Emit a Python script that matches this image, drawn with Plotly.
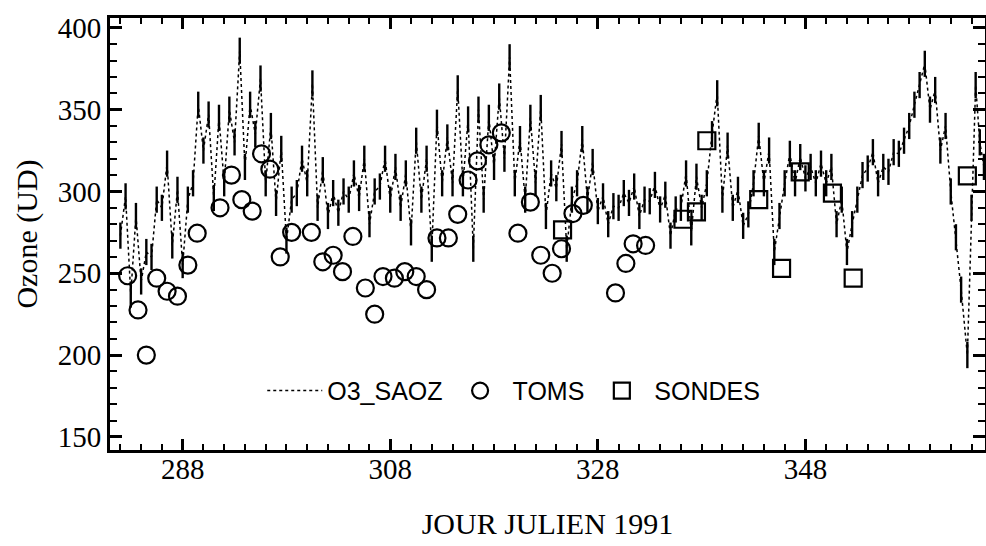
import plotly.graph_objects as go

# SAOZ ozone (DU): two readings per day (morning / evening)
saoz_day = [282.0, 282.5, 283.0, 283.5, 284.0, 284.5, 285.0, 285.5, 286.0, 286.5,
            287.0, 287.5, 288.0, 288.5, 289.0, 289.5, 290.0, 290.5, 291.0, 291.5,
            292.0, 292.5, 293.0, 293.5, 294.0, 294.5, 295.0, 295.5, 296.0, 296.5,
            297.0, 297.5, 298.0, 298.5, 299.0, 299.5, 300.0, 300.5, 301.0, 301.5,
            302.0, 302.5, 303.0, 303.5, 304.0, 304.5, 305.0, 305.5, 306.0, 306.5,
            307.0, 307.5, 308.0, 308.5, 309.0, 309.5, 310.0, 310.5, 311.0, 311.5,
            312.0, 312.5, 313.0, 313.5, 314.0, 314.5, 315.0, 315.5, 316.0, 316.5,
            317.0, 317.5, 318.0, 318.5, 319.0, 319.5, 320.0, 320.5, 321.0, 321.5,
            322.0, 322.5, 323.0, 323.5, 324.0, 324.5, 325.0, 325.5, 326.0, 326.5,
            327.0, 327.5, 328.0, 328.5, 329.0, 329.5, 330.0, 330.5, 331.0, 331.5,
            332.0, 332.5, 333.0, 333.5, 334.0, 334.5, 335.0, 335.5, 336.0, 336.5,
            337.0, 337.5, 338.0, 338.5, 339.0, 339.5, 340.0, 340.5, 341.0, 341.5,
            342.0, 342.5, 343.0, 343.5, 344.0, 344.5, 345.0, 345.5, 346.0, 346.5,
            347.0, 347.5, 348.0, 348.5, 349.0, 349.5, 350.0, 350.5, 351.0, 351.5,
            352.0, 352.5, 353.0, 353.5, 354.0, 354.5, 355.0, 355.5, 356.0, 356.5,
            357.0, 357.5, 358.0, 358.5, 359.0, 359.5, 360.0, 360.5, 361.0, 361.5,
            362.0, 362.5, 363.0, 363.6, 364.0, 364.4, 364.8, 365.2]
saoz_val = [273, 297, 237, 285, 245, 263, 260, 295, 290, 317,
            267, 301, 255, 295, 305, 353, 325, 347, 296, 345,
            305, 350, 330, 386, 315, 353, 335, 369, 305, 340,
            293, 326, 270, 295, 299, 320, 305, 366, 290, 313,
            285, 299, 287, 300, 295, 311, 296, 320, 280, 300,
            303, 320, 295, 315, 290, 311, 275, 331, 295, 320,
            265, 342, 305, 333, 305, 363, 305, 344, 265, 350,
            295, 345, 315, 358, 320, 382, 305, 332, 295, 345,
            305, 351, 285, 311, 302, 329, 265, 295, 305, 332,
            295, 318, 288, 297, 280, 291, 290, 299, 293, 303,
            285, 295, 294, 304, 289, 298, 273, 289, 290, 311,
            275, 309, 290, 305, 335, 360, 295, 328, 290, 301,
            279, 286, 305, 334, 305, 325, 263, 285, 305, 323,
            305, 321, 308, 315, 305, 317, 305, 315, 280, 295,
            263, 280, 295, 310, 314, 324, 305, 315, 312, 324,
            323, 331, 340, 353, 365, 378, 350, 362, 325, 340,
            300, 272, 240, 200, 290, 365, 330, 315]
saoz_err = 8

# TOMS
toms_day = [282.7, 283.7, 284.5, 285.5, 286.5, 287.5, 288.5, 289.4, 291.6, 292.7,
            293.7, 294.7, 295.6, 296.4, 297.4, 298.5, 300.4, 301.5, 302.5, 303.4,
            304.4, 305.6, 306.5, 307.3, 308.4, 309.4, 310.5, 311.5, 312.5, 313.6,
            314.5, 315.5, 316.4, 317.5, 318.7, 320.3, 321.5, 322.5, 323.6, 324.5,
            325.6, 326.6, 329.7, 330.7, 331.4, 332.6]
toms_val = [248.5, 227.6, 200, 247, 239, 236, 255, 274.5, 290, 310,
            295, 288, 323, 313.6, 260, 275, 275, 257, 261, 251,
            272.5, 241, 225, 248, 247, 251, 248, 240, 271.6, 271.6,
            286, 307, 318.7, 328.5, 335.8, 274.5, 293.5, 261, 250, 265,
            286.5, 291.5, 238, 256, 268, 267]

# Ozone sondes
sondes_day = [324.6, 336.2, 337.5, 338.5, 343.5, 345.7, 347.5, 350.6, 352.6, 363.6]
sondes_val = [276.5, 283, 287.5, 331, 295, 253, 312, 299, 247, 309.5]

x_ticks = [288, 308, 328, 348]
y_ticks = [150, 200, 250, 300, 350, 400]

fig = go.Figure()
fig.add_trace(go.Scatter(
    x=saoz_day, y=saoz_val, mode="lines", name="O3_SAOZ",
    line=dict(color="black", width=1.5, dash="dot"),
    error_y=dict(type="constant", value=saoz_err,
                 width=0, thickness=2.4, color="black"),
))
fig.add_trace(go.Scatter(
    x=toms_day, y=toms_val, mode="markers", name="TOMS",
    marker=dict(symbol="circle-open", size=17, color="black",
                line=dict(color="black", width=2.2)),
))
fig.add_trace(go.Scatter(
    x=sondes_day, y=sondes_val, mode="markers", name="SONDES",
    marker=dict(symbol="square-open", size=17, color="black",
                line=dict(color="black", width=2.2)),
))

serif = "Liberation Serif, Times New Roman, serif"
fig.update_layout(
    width=986, height=546,
    margin=dict(l=110, r=1, t=18, b=96),
    paper_bgcolor="white", plot_bgcolor="white",
    font=dict(family=serif, color="black", size=28),
    showlegend=True,
    legend=dict(orientation="h", x=0.174, y=0.137, xanchor="left", yanchor="middle",
                font=dict(family="Liberation Sans, Arial, sans-serif", size=25),
                bgcolor="rgba(0,0,0,0)", itemwidth=55, tracegroupgap=0),
    xaxis=dict(
        range=[281, 365.3], tickmode="array", tickvals=x_ticks,
        ticktext=[str(v) for v in x_ticks],
        ticks="inside", ticklen=11, tickwidth=2.5, tickcolor="black",
        minor=dict(ticks="inside", tickmode="linear", tick0=288, dtick=2,
                   ticklen=6, tickwidth=2, tickcolor="black", showgrid=False),
        showline=True, linewidth=3, linecolor="black", mirror="allticks",
        showgrid=False, zeroline=False, automargin=False,
        tickfont=dict(family=serif, size=29), ticklabelstandoff=-9,
        title=dict(text="JOUR JULIEN 1991", font=dict(family=serif, size=30), standoff=30),
    ),
    yaxis=dict(
        range=[142, 406], tickmode="array", tickvals=y_ticks,
        ticktext=[str(v) for v in y_ticks],
        ticks="inside", ticklen=12, tickwidth=2.5, tickcolor="black",
        minor=dict(ticks="inside", tickmode="linear", tick0=150, dtick=10,
                   ticklen=7, tickwidth=2, tickcolor="black", showgrid=False),
        showline=True, linewidth=3, linecolor="black", mirror="allticks",
        showgrid=False, zeroline=False, automargin=False,
        tickfont=dict(family=serif, size=29),
        title=dict(text="Ozone (UD)", font=dict(family=serif, size=30), standoff=12),
    ),
)

fig.write_html(
    "out.html",
    config={"displayModeBar": False},
    post_script="document.body.style.margin='0';document.body.style.overflow='hidden';",
)
